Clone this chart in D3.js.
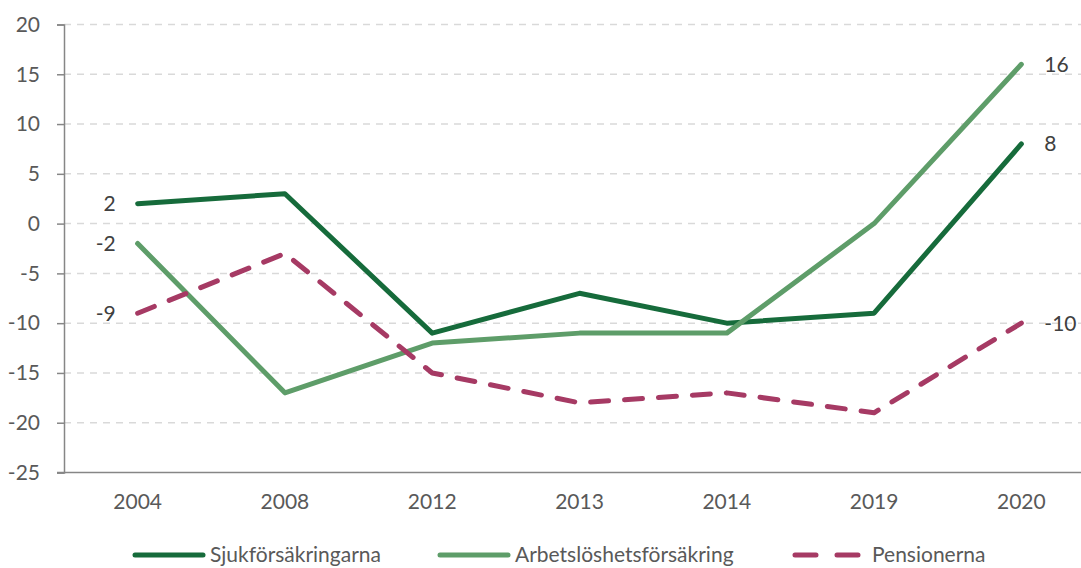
<!DOCTYPE html>
<html>
<head>
<meta charset="utf-8">
<script src="https://cdn.jsdelivr.net/npm/d3@7"></script>
<style>
  body { margin: 0; background: #fff; }
  text { font-family: Lato, "Open Sans", sans-serif; }
</style>
</head>
<body>
<svg id="chart"></svg>
<script>
const years = ['2004', '2008', '2012', '2013', '2014', '2019', '2020']
const sjuk = [2, 3, -11, -7, -10, -9, 8]
const arbete = [-2, -17, -12, -11, -11, 0, 16]
const pension = [-9, -3, -15, -18, -17, -19, -10]
const yTicks = [-25, -20, -15, -10, -5, 0, 5, 10, 15, 20]

const series = [
  { name: 'Sjukförsäkringarna', values: sjuk, color: '#166b3b', dash: null },
  { name: 'Arbetslöshetsförsäkring', values: arbete, color: '#5e9d69', dash: null },
  { name: 'Pensionerna', values: pension, color: '#a63a64', dash: '18,16' }
]

const width = 1081, height = 568
const fs = '21px'

const svg = d3.select('#chart')
  .attr('width', width)
  .attr('height', height)

const x = d3.scaleBand().domain(years).range([64, 1095])
const y = d3.scaleLinear().domain([-25, 20]).range([472.5, 24.5])
const cx = d => x(d) + x.bandwidth() / 2

// gridlines
svg.append('g')
  .selectAll('line')
  .data(yTicks.filter(t => t > -25))
  .join('line')
  .attr('x1', 64).attr('x2', width)
  .attr('y1', d => y(d)).attr('y2', d => y(d))
  .attr('stroke', '#d9d9d9')
  .attr('stroke-width', 1.5)
  .attr('stroke-dasharray', '7,6')

// y axis (plain hyphen for negatives, like the original)
const yAxis = svg.append('g')
  .attr('transform', 'translate(64,0)')
  .call(d3.axisLeft(y).tickValues(yTicks).tickSize(7).tickFormat(d => String(d)))
yAxis.select('.domain').attr('stroke', '#868686').attr('stroke-width', 1.5)
yAxis.selectAll('.tick line').attr('stroke', '#868686').attr('stroke-width', 1.5)
yAxis.selectAll('text').attr('fill', '#595959').style('font-size', fs)
  .attr('x', -24)

// x axis
const xAxis = svg.append('g')
  .attr('transform', `translate(0,${y(-25)})`)
  .call(d3.axisBottom(x).tickSize(0).tickPadding(22))
xAxis.select('.domain').attr('stroke', '#868686').attr('stroke-width', 1.5)
  .attr('d', `M57,0H${width}`)
xAxis.selectAll('text').attr('fill', '#595959').style('font-size', fs)

// lines
const line = d3.line().x((d, i) => cx(years[i])).y(d => y(d))

svg.append('g')
  .selectAll('path')
  .data(series)
  .join('path')
  .attr('d', d => line(d.values))
  .attr('fill', 'none')
  .attr('stroke', d => d.color)
  .attr('stroke-width', 5)
  .attr('stroke-linecap', 'round')
  .attr('stroke-linejoin', 'round')
  .attr('stroke-dasharray', d => d.dash)

// labels at start and end
const labels = svg.append('g').style('font-size', fs).attr('fill', '#404040')
series.forEach(s => {
  labels.append('text')
    .attr('x', cx(years[0]) - 22)
    .attr('y', y(s.values[0]))
    .attr('dy', '0.35em')
    .attr('text-anchor', 'end')
    .text(s.values[0])
  const last = s.values[s.values.length - 1]
  labels.append('text')
    .attr('x', cx(years[years.length - 1]) + 23)
    .attr('y', y(last))
    .attr('dy', '0.35em')
    .text(last)
})

// legend
const legendPos = [133, 438, 793]
const legend = svg.append('g')
  .selectAll('g')
  .data(series)
  .join('g')
  .attr('transform', (d, i) => `translate(${legendPos[i]},555)`)

legend.append('line')
  .attr('x1', 2).attr('x2', d => d.dash ? 65 : 70)
  .attr('stroke', d => d.color)
  .attr('stroke-width', 5)
  .attr('stroke-linecap', 'round')
  .attr('stroke-dasharray', d => d.dash ? '21,21' : null)

legend.append('text')
  .attr('x', d => d.dash ? 79 : 77)
  .attr('dy', '0.35em')
  .attr('fill', '#595959')
  .style('font-size', fs)
  .text(d => d.name)
</script>
</body>
</html>
